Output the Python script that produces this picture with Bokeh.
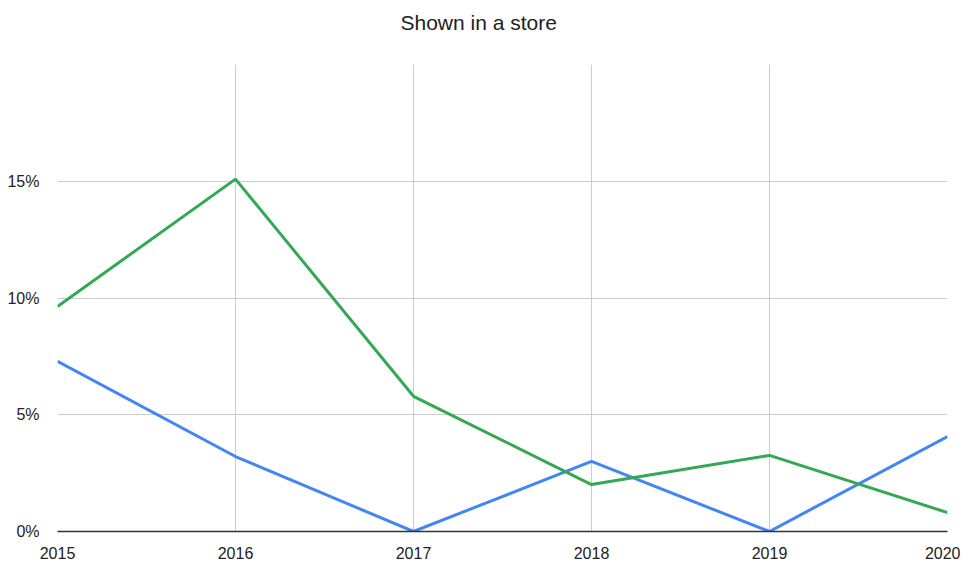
from bokeh.plotting import figure
from bokeh.models import FixedTicker, PrintfTickFormatter, Range1d, Title
from bokeh.embed import file_html
from bokeh.resources import INLINE

years = [2015, 2016, 2017, 2018, 2019, 2020]
green_vals = [9.64, 15.09, 5.79, 2.01, 3.26, 0.81]
blue_vals = [7.29, 3.21, 0.0, 3.0, 0.0, 4.07]
y_ticks = [0, 5, 10, 15]
title_text = "Shown in a store"

p = figure(width=960, height=566, output_backend="svg", toolbar_location=None,
           x_range=Range1d(2015, 2020), y_range=Range1d(0, 20),
           min_border_left=57, min_border_right=13, min_border_top=64, min_border_bottom=35)
p.outline_line_color = None
p.background_fill_color = "white"
p.border_fill_color = "white"

# empty spacer panel between the frame and the title
spacer = Title(text=" ", text_font_size="10px", standoff=7)
p.add_layout(spacer, "above")
t = Title(text=title_text, align="left", vertical_align="top", text_font="Liberation Sans",
          text_font_size="21px", text_font_style="normal", text_color="#222222",
          offset=343, standoff=18)
p.add_layout(t, "above")

p.line(years, blue_vals, line_color="#4285F4", line_width=3)
p.line(years, green_vals, line_color="#34A853", line_width=3)

p.xaxis.ticker = FixedTicker(ticks=years)
p.yaxis.ticker = FixedTicker(ticks=y_ticks)
p.yaxis.formatter = PrintfTickFormatter(format="%d%%")
for ax in (p.xaxis[0], p.yaxis[0]):
    ax.major_tick_line_color = None
    ax.minor_tick_line_color = None
    ax.major_label_text_font = "Liberation Sans"
    ax.major_label_text_font_size = "16px"
    ax.major_label_text_color = "#222222"
p.yaxis.axis_line_color = None
p.xaxis.axis_line_color = "#333333"
p.xaxis.axis_line_width = 1.5
p.xaxis.major_label_standoff = 9
p.yaxis.major_label_standoff = 12
p.xgrid.grid_line_color = "#cccccc"
p.ygrid.grid_line_color = "#cccccc"
p.xgrid.ticker = FixedTicker(ticks=years)
p.ygrid.ticker = FixedTicker(ticks=y_ticks)

open("out.html", "w").write(file_html(p, INLINE))
